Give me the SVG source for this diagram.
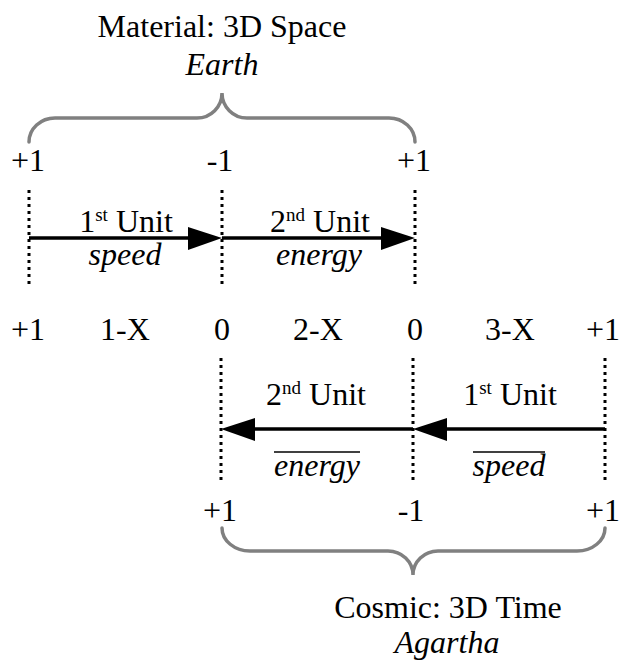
<svg xmlns="http://www.w3.org/2000/svg" width="620" height="660" viewBox="0 0 620 660">
<style>
text{font-family:"Liberation Serif","Times New Roman",serif;font-size:32px;fill:#000;text-anchor:middle}
.it{font-style:italic}
.sup{font-size:19px}
.brace{fill:none;stroke:#808080;stroke-width:3.5;stroke-linecap:round}
.dot{stroke:#000;stroke-width:3;stroke-dasharray:3 4}
.arr{stroke:#000;stroke-width:3.5;fill:none}
.ol{stroke:#000;stroke-width:1.3}
</style>
<defs>
<marker id="ah" markerWidth="10" markerHeight="8" refX="10" refY="4" orient="auto" markerUnits="userSpaceOnUse" viewBox="0 0 10 8">
<path d="M0,0 L10,4 L0,8 Z" fill="#000"/>
</marker>
</defs>
<rect width="620" height="660" fill="#fff"/>

<g id="material-label">
<text x="222" y="37">Material: 3D Space</text>
<text class="it" x="222" y="75">Earth</text>
</g>
<g id="material-brace">
<path class="brace" d="M29,142 A26,24 0 0 1 55,118 L197,118 A25,25 0 0 0 222,93 A25,25 0 0 0 247,118 L389,118 A26,24 0 0 1 415,142"/>
</g>
<g id="top-values">
<text x="28" y="171">+1</text>
<text x="220" y="171">-1</text>
<text x="414" y="171">+1</text>
</g>

<g id="connectors">
<line class="dot" x1="29" y1="190" x2="29" y2="287"/>
<line class="dot" x1="222" y1="190" x2="222" y2="287"/>
<line class="dot" x1="415" y1="190" x2="415" y2="287"/>
<line class="arr" x1="29" y1="238" x2="195" y2="238"/>
<path d="M188,227 L222,238 L188,250 Z" fill="#000"/>
<line class="arr" x1="222" y1="238" x2="388" y2="238"/>
<path d="M381,227 L415,238 L381,250 Z" fill="#000"/>

<line class="dot" x1="221" y1="358" x2="221" y2="480"/>
<line class="dot" x1="413" y1="358" x2="413" y2="480"/>
<line class="dot" x1="605" y1="358" x2="605" y2="480"/>
<line class="arr" x1="605" y1="429" x2="440" y2="429"/>
<path d="M447,418 L413,429 L447,441 Z" fill="#000"/>
<line class="arr" x1="413" y1="429" x2="248" y2="429"/>
<path d="M255,418 L221,429 L255,441 Z" fill="#000"/>
</g>

<g id="unit1-top">
<text x="126" y="232">1<tspan class="sup" dy="-11">st</tspan><tspan dy="11"> Unit</tspan></text>
<text class="it" x="125" y="265">speed</text>
</g>
<g id="unit2-top">
<text x="320" y="232">2<tspan class="sup" dy="-11">nd</tspan><tspan dy="11"> Unit</tspan></text>
<text class="it" x="319" y="265">energy</text>
</g>

<g id="middle-row">
<text x="28" y="340">+1</text>
<text x="125" y="340">1-X</text>
<text x="222" y="340">0</text>
<text x="318" y="340">2-X</text>
<text x="415" y="340">0</text>
<text x="510" y="340">3-X</text>
<text x="603" y="340">+1</text>
</g>

<g id="unit2-bottom">
<text x="316" y="405">2<tspan class="sup" dy="-11">nd</tspan><tspan dy="11"> Unit</tspan></text>
<line class="ol" x1="274" y1="452" x2="360" y2="452"/>
<text class="it" x="317" y="476">energy</text>
</g>
<g id="unit1-bottom">
<text x="510" y="405">1<tspan class="sup" dy="-11">st</tspan><tspan dy="11"> Unit</tspan></text>
<line class="ol" x1="473" y1="452" x2="545" y2="452"/>
<text class="it" x="509" y="476">speed</text>
</g>

<g id="bottom-values">
<text x="220" y="521">+1</text>
<text x="411" y="521">-1</text>
<text x="603" y="521">+1</text>
</g>
<g id="cosmic-brace">
<path class="brace" d="M222,528 A28,23 0 0 0 250,551 L388,551 A25,24 0 0 1 413,575 A25,24 0 0 1 438,551 L577,551 A28,23 0 0 0 605,528"/>
</g>
<g id="cosmic-label">
<text x="448" y="618">Cosmic: 3D Time</text>
<text class="it" x="447" y="653">Agartha</text>
</g>
</svg>
